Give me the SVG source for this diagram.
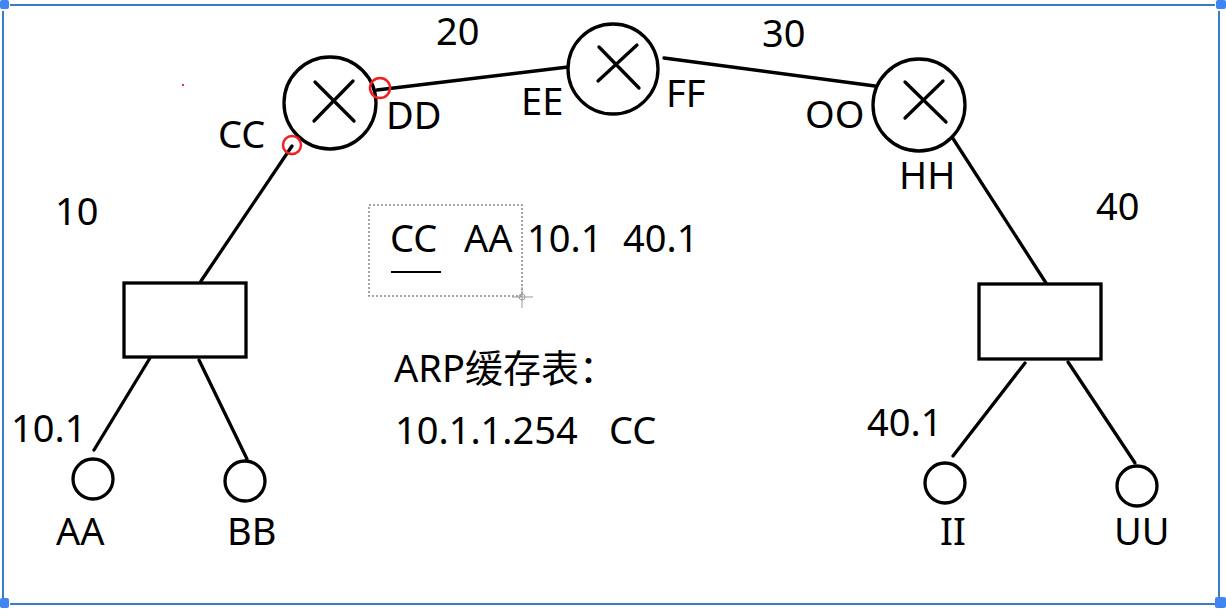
<svg xmlns="http://www.w3.org/2000/svg" width="1226" height="610" viewBox="0 0 1226 610">
<style>
.ln{stroke:#000;stroke-width:3.3;fill:none;stroke-linecap:round}
.nd{stroke:#000;stroke-width:3.3;fill:#fff}
.t{font-family:"Noto Sans","Noto Sans CJK SC",sans-serif;font-size:38px;fill:#000}
.fr{stroke:#3a7dc4;stroke-width:2;fill:none}
.cn{fill:#3f86f0}
.red{stroke:#f02020;stroke-width:2.5;fill:none}
</style>
<rect width="1226" height="610" fill="#fff"/>
<g id="frame">
<line class="fr" x1="10" y1="5" x2="1215" y2="5"/>
<line class="fr" x1="3" y1="11" x2="3" y2="598"/>
<line class="fr" x1="10" y1="604" x2="1215" y2="604"/>
<line class="fr" x1="1219" y1="11" x2="1219" y2="598"/>
<rect class="cn" x="0" y="0" width="9" height="9" rx="2"/>
<rect class="cn" x="1216" y="0" width="10" height="9" rx="2"/>
<rect class="cn" x="0" y="598" width="9" height="10" rx="2"/>
<rect class="cn" x="1215" y="597" width="11" height="11" rx="2"/>
</g>
<g id="connectors">
<line class="ln" x1="377" y1="90" x2="568" y2="67"/>
<line class="ln" x1="664" y1="58" x2="875" y2="86"/>
<line class="ln" x1="292" y1="146" x2="201" y2="281"/>
<line class="ln" x1="952" y1="137" x2="1046" y2="283"/>
<line class="ln" x1="150" y1="358" x2="94" y2="450"/>
<line class="ln" x1="199" y1="360" x2="247" y2="459"/>
<line class="ln" x1="1025" y1="363" x2="953" y2="456"/>
<line class="ln" x1="1068" y1="362" x2="1135" y2="463"/>
</g>
<g id="router1">
<circle class="nd" cx="330" cy="103" r="46"/>
<line class="ln" x1="315" y1="82" x2="354" y2="121"/>
<line class="ln" x1="314" y1="121" x2="353" y2="81"/>
</g>
<g id="router2">
<circle class="nd" cx="613" cy="69" r="45"/>
<line class="ln" x1="599" y1="47" x2="639" y2="88"/>
<line class="ln" x1="598" y1="81" x2="637" y2="45"/>
</g>
<g id="router3">
<circle class="nd" cx="919" cy="105" r="46"/>
<line class="ln" x1="905" y1="82" x2="946" y2="122"/>
<line class="ln" x1="905" y1="118" x2="943" y2="81"/>
</g>
<g id="switch1"><rect class="nd" x="124" y="283" width="122" height="74"/></g>
<g id="switch2"><rect class="nd" x="979" y="284" width="122" height="75"/></g>
<g id="hostAA"><circle class="nd" cx="93" cy="479" r="20"/></g>
<g id="hostBB"><circle class="nd" cx="245" cy="481" r="20"/></g>
<g id="hostII"><circle class="nd" cx="945" cy="483" r="20"/></g>
<g id="hostUU"><circle class="nd" cx="1137" cy="486" r="20"/></g>
<g id="marks">
<circle class="red" cx="380" cy="88" r="10"/>
<circle class="red" cx="292" cy="145" r="9"/>
<rect x="182" y="84" width="2" height="2" fill="#f03030"/>
</g>
<g id="labels">
<text class="t" x="436" y="45">20</text>
<text class="t" x="762" y="47">30</text>
<text class="t" x="218" y="148">CC</text>
<text class="t" x="386" y="129">DD</text>
<text class="t" x="521" y="115">EE</text>
<text class="t" x="666" y="107">FF</text>
<text class="t" x="805" y="128">OO</text>
<text class="t" x="899" y="189">HH</text>
<text class="t" x="55" y="225">10</text>
<text class="t" x="1096" y="220">40</text>
<text class="t" x="11" y="442">10.1</text>
<text class="t" x="867" y="436">40.1</text>
<text class="t" x="56" y="545">AA</text>
<text class="t" x="227" y="545">BB</text>
<text class="t" x="940" y="545">II</text>
<text class="t" x="1114" y="545">UU</text>
</g>
<g id="note">
<rect x="369" y="205" width="153" height="91" fill="none" stroke="#888" stroke-width="1.5" stroke-dasharray="2,2"/>
<g stroke="#999" stroke-width="1" fill="none">
<circle cx="522" cy="297" r="3"/>
<line x1="522" y1="287" x2="522" y2="308"/>
<line x1="512" y1="297" x2="533" y2="297"/>
</g>
<text class="t" x="390" y="252">CC</text>
<line x1="391" y1="272" x2="441" y2="272" stroke="#000" stroke-width="2"/>
<text class="t" x="464" y="252">AA</text>
<text class="t" x="527" y="252">10.1</text>
<text class="t" x="623" y="252">40.1</text>
<text class="t" x="394" y="382">ARP缓存表：</text>
<text class="t" x="395" y="444">10.1.1.254</text>
<text class="t" x="609" y="444">CC</text>
</g>
</svg>
